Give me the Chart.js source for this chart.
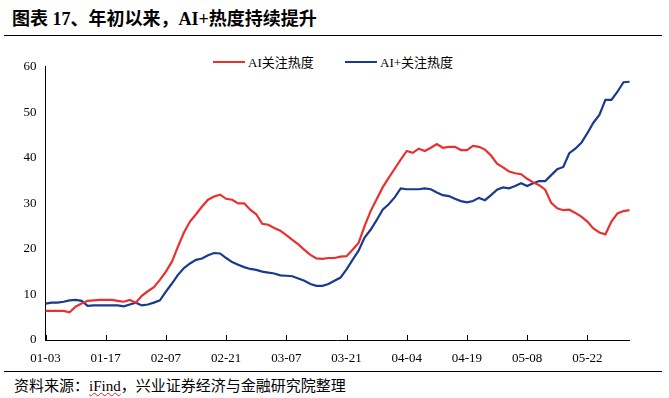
<!DOCTYPE html>
<html><head><meta charset="utf-8">
<script src="https://cdn.jsdelivr.net/npm/chart.js@4"></script>
<style>
html,body{margin:0;padding:0;background:#fff;}
body{width:669px;height:398px;position:relative;overflow:hidden;font-family:"Liberation Serif","Noto Sans CJK SC",serif;color:#000;}
#title{position:absolute;left:12px;top:4px;font-weight:bold;font-size:18px;white-space:nowrap;}
.rule{position:absolute;left:4px;width:658px;border-top:1.5px solid #000;}
.leg{position:absolute;top:52px;font-size:13px;white-space:nowrap;display:flex;align-items:center;}
.leg i{display:inline-block;width:32px;height:2px;margin-right:3px;}
#src{position:absolute;left:14px;top:374px;font-size:15px;white-space:nowrap;}
#src u{text-decoration:underline wavy #e02020;text-decoration-thickness:1px;}
#wrap{position:absolute;left:0;top:40px;width:669px;height:330px;}
</style></head>
<body>
<div id="title">图表 17、年初以来，AI+热度持续提升</div>
<div class="rule" style="top:35px"></div>
<div class="leg" style="left:213px"><i style="background:#E8312F"></i>AI关注热度</div>
<div class="leg" style="left:345px"><i style="background:#1B3A8E"></i>AI+关注热度</div>
<div id="wrap"><canvas id="c"></canvas></div>
<div class="rule" style="top:371px"></div>
<div id="src">资料来源：<u>iFind</u>，兴业证券经济与金融研究院整理</div>
<script>
const dates = [
"01-03","01-04","01-05","01-06","01-09","01-10","01-11","01-12","01-13","01-16",
"01-17","01-18","01-19","01-20","01-30","01-31","02-01","02-02","02-03","02-06",
"02-07","02-08","02-09","02-10","02-13","02-14","02-15","02-16","02-17","02-20",
"02-21","02-22","02-23","02-24","02-27","02-28","03-01","03-02","03-03","03-06",
"03-07","03-08","03-09","03-10","03-13","03-14","03-15","03-16","03-17","03-20",
"03-21","03-22","03-23","03-24","03-27","03-28","03-29","03-30","03-31","04-03",
"04-04","04-06","04-07","04-10","04-11","04-12","04-13","04-14","04-17","04-18",
"04-19","04-20","04-21","04-24","04-25","04-26","04-27","04-28","05-04","05-05",
"05-08","05-09","05-10","05-11","05-12","05-15","05-16","05-17","05-18","05-19",
"05-22","05-23","05-24","05-25","05-26","05-29","05-30","05-31"];
const aiHeat = [
6.4,6.4,6.4,6.4,6.1,7.3,8.0,8.6,8.7,8.8,
8.8,8.8,8.6,8.4,8.8,8.2,9.7,10.7,11.6,13.2,
15.0,17.2,20.5,23.6,26.0,27.6,29.3,30.8,31.5,31.9,
31.0,30.8,30.0,30.0,28.6,27.6,25.5,25.3,24.6,24.0,
23.0,22.0,21.0,19.8,18.7,17.9,17.8,18.0,18.0,18.3,
18.4,19.8,21.3,25.0,28.3,30.9,33.5,35.6,37.6,39.6,
41.5,41.1,42.0,41.5,42.2,43.0,42.2,42.4,42.4,41.7,
41.7,42.6,42.4,41.8,40.5,38.7,37.9,37.0,36.6,36.4,
35.4,34.6,34.0,33.0,30.1,28.9,28.5,28.6,27.9,27.1,
26.0,24.5,23.6,23.2,26.0,27.8,28.3,28.5];
const aiPlusHeat = [
8.0,8.2,8.2,8.4,8.7,8.8,8.6,7.5,7.6,7.6,
7.6,7.6,7.6,7.4,7.8,8.2,7.6,7.8,8.2,8.7,
10.6,12.4,14.3,15.8,16.8,17.6,17.9,18.6,19.1,19.0,
18.0,17.1,16.5,16.0,15.6,15.4,15.0,14.8,14.6,14.2,
14.1,14.0,13.5,13.0,12.3,11.9,11.9,12.3,13.0,13.7,
15.5,17.6,19.6,22.5,24.2,26.3,28.6,29.8,31.3,33.3,
33.1,33.1,33.1,33.3,33.1,32.4,31.8,31.6,31.0,30.5,
30.2,30.5,31.2,30.7,31.8,33.0,33.5,33.3,33.8,34.4,
33.8,34.4,34.9,34.9,36.2,37.5,38.0,41.0,42.0,43.3,
45.4,47.7,49.4,52.7,52.7,54.5,56.6,56.7];
const seriesNames = ["AI关注热度","AI+关注热度"];
const tickEvery = 10;
const yTicks = [0,10,20,30,40,50,60];

const FONT = '"Liberation Serif","Noto Sans CJK SC",serif';

const innerTicks = {
  id:'innerTicks',
  afterDatasetsDraw(chart){
    const x = chart.scales.x, y = chart.scales.y, ctx = chart.ctx;
    ctx.save();
    ctx.strokeStyle = '#000'; ctx.lineWidth = 1;
    ctx.beginPath();
    for (let i = 0; i < dates.length; i += tickEvery) {
      const px = Math.round(x.getPixelForValue(i)) + 0.5;
      ctx.moveTo(px, y.bottom); ctx.lineTo(px, y.bottom - 5);
    }
    ctx.stroke();
    ctx.restore();
  }
};

new Chart(document.getElementById('c'), {
  type:'line',
  data:{
    labels: dates,
    datasets:[
      {label:seriesNames[0], data:aiHeat, borderColor:'#E8312F', borderWidth:2.2, pointRadius:0, tension:0, fill:false},
      {label:seriesNames[1], data:aiPlusHeat, borderColor:'#1B3A8E', borderWidth:2.2, pointRadius:0, tension:0, fill:false}
    ]
  },
  options:{
    responsive:true, maintainAspectRatio:false, animation:false,
    layout:{padding:{top:26.7, right:39.5, left:0, bottom:0}},
    plugins:{legend:{display:false}, tooltip:{enabled:false}},
    scales:{
      x:{
        offset:false,
        grid:{display:false, drawTicks:false},
        border:{display:true, color:'#000', width:1},
        ticks:{autoSkip:false, maxRotation:0, minRotation:0, padding:11, color:'#000',
          font:{family:FONT, size:13},
          callback:(v,i)=> i % tickEvery === 0 ? dates[i] : ''},
        afterFit:(s)=>{ s.height = 30; }
      },
      y:{
        min:yTicks[0], max:yTicks[yTicks.length-1],
        grid:{display:false, drawTicks:false},
        border:{display:true, color:'#000', width:1},
        ticks:{stepSize:10, padding:9, color:'#000', font:{family:FONT, size:13}},
        afterFit:(s)=>{ s.width = 45.5; }
      }
    }
  },
  plugins:[innerTicks]
});
</script>
</body></html>
